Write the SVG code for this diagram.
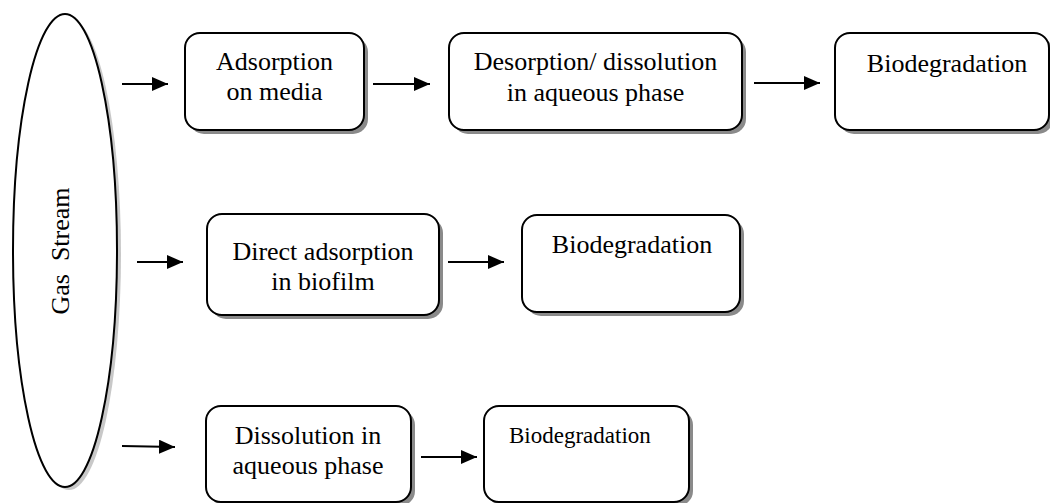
<svg xmlns="http://www.w3.org/2000/svg" width="1050" height="503" viewBox="0 0 1050 503">
<style>
.box{fill:#fff;stroke:#000;stroke-width:2}
.shadow{fill:#8a8a8a;stroke:none}
text{font-family:'Liberation Serif','Times New Roman',Times,'DejaVu Serif',serif;font-size:26px;fill:#000;text-anchor:middle}
.conn line{stroke:#000;stroke-width:2;fill:none;marker-end:url(#ah)}
</style>
<defs>
<marker id="ah" markerUnits="userSpaceOnUse" markerWidth="16" markerHeight="14" refX="16" refY="7" orient="auto">
<path d="M0,0 L16,7 L0,14 z" fill="#000"/>
</marker>
</defs>
<rect width="1050" height="503" fill="#fff"/>

<g id="gas-stream">
<ellipse cx="69" cy="254" rx="52" ry="236" fill="#c8c8c8"/>
<ellipse cx="65" cy="250.5" rx="52" ry="236.5" fill="#fff" stroke="#000" stroke-width="2"/>
<text font-family="Liberation Serif, serif" transform="translate(69,251) rotate(-90)" xml:space="preserve">Gas  Stream</text>
</g>

<g id="adsorption-media" font-family="Liberation Serif, serif">
<rect class="shadow" x="189" y="37" width="179" height="97" rx="15"/>
<rect class="box" x="185" y="33" width="179" height="97" rx="15"/>
<text x="274.5" y="70">Adsorption</text>
<text x="274.5" y="100">on media</text>
</g>

<g id="desorption">
<rect class="shadow" x="453" y="37" width="293" height="97" rx="15"/>
<rect class="box" x="449" y="33" width="293" height="97" rx="15"/>
<text x="595.5" y="70">Desorption/ dissolution</text>
<text x="595.5" y="101">in aqueous phase</text>
</g>

<g id="biodeg-1">
<rect class="shadow" x="839" y="37" width="214" height="97" rx="15"/>
<rect class="box" x="835" y="33" width="214" height="97" rx="15"/>
<text x="947" y="72">Biodegradation</text>
</g>

<g id="direct-adsorption">
<rect class="shadow" x="211" y="218" width="232" height="101" rx="15"/>
<rect class="box" x="207" y="214" width="232" height="101" rx="15"/>
<text x="323" y="260">Direct adsorption</text>
<text x="323" y="290">in biofilm</text>
</g>

<g id="biodeg-2">
<rect class="shadow" x="526" y="219" width="218" height="97" rx="15"/>
<rect class="box" x="522" y="215" width="218" height="97" rx="15"/>
<text x="632" y="253">Biodegradation</text>
</g>

<g id="dissolution">
<rect class="shadow" x="210" y="410" width="205" height="96" rx="15"/>
<rect class="box" x="206" y="406" width="205" height="96" rx="15"/>
<text x="308" y="444">Dissolution in</text>
<text x="308" y="474">aqueous phase</text>
</g>

<g id="biodeg-3">
<rect class="shadow" x="488" y="410" width="205" height="96" rx="15"/>
<rect class="box" x="484" y="406" width="205" height="96" rx="15"/>
<text x="509" y="443" style="font-size:23px;text-anchor:start">Biodegradation</text>
</g>

<g id="connectors" class="conn">
<line x1="122" y1="84" x2="168" y2="84"/>
<line x1="137" y1="262" x2="183" y2="262"/>
<line x1="122" y1="446" x2="175" y2="447"/>
<line x1="373" y1="84" x2="430" y2="84"/>
<line x1="754" y1="83" x2="820" y2="83"/>
<line x1="448" y1="262" x2="504" y2="262"/>
<line x1="421" y1="457" x2="477" y2="457"/>
</g>
</svg>
